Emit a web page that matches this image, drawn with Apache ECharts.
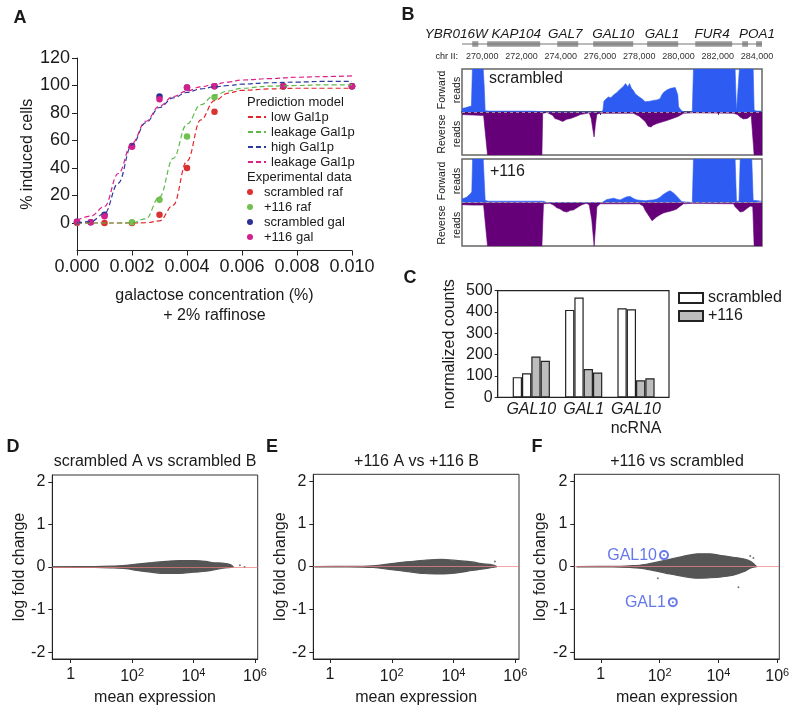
<!DOCTYPE html>
<html><head><meta charset="utf-8">
<script src="https://cdn.jsdelivr.net/npm/echarts@6/dist/echarts.min.js"></script>
<style>html,body{margin:0;padding:0;background:#fff}#c{width:800px;height:718px}</style>
</head><body><div id="c"></div>
<script>
// ---------------- Panel A data ----------------
const galConc      = [0, 0.0005, 0.001, 0.002, 0.003, 0.004, 0.005, 0.0075, 0.01];
const scrambledRaf = [0, null, 0, 0, 6, 40, 81, 99.5, 99.5];
const plus116Raf   = [0.5, null, null, 0.5, 17, 63, 91.5, 99.5, 99.5];
const scrambledGal = [1, 0.5, 6, 56, 92, 98.5, 99.5, 99.5, 99.5];
const plus116Gal   = [1, 0.5, 5, 55.5, 90, 98.5, 99.5, 99.5, 99.5];
const modelX       = [0,0.0005,0.001,0.0015,0.002,0.0025,0.003,0.0035,0.004,0.0045,0.005,0.0055,0.006,0.007,0.008,0.009,0.01];
const lowGal1p     = [0,0,0,0,0,0.2,1.5,13,45,75,89,94.5,96.5,97.5,98,98,98];
const leakLowGal1p = [0,0,0,0,0.3,3,19,47,72,86,93,96,98,99.5,100,100.5,100.5];
const highGal1p    = [0,1,7,29,57,73,84,91,95,97.5,99,100,101,102,102.5,103,103];
const leakHighGal1p= [2,5,12,36,58,74,85,92,96,99,101,102.5,104,105,106,106.5,107];
const yTicksA      = [0,20,40,60,80,100,120];

// ---------------- Panel B data ----------------
const chrMin = 268970, chrMax = 284250;
const rulerTicks   = [270000,272000,274000,276000,278000,280000,282000,284000];
const geneNames    = ['YBR016W','KAP104','GAL7','GAL10','GAL1','FUR4','POA1'];
const geneLabelPos = [268680,271730,274230,276670,279160,281710,284000];
const exonStart    = [269490,270250,273820,275650,278400,280850,283240,283950];
const exonEnd      = [269800,272950,274890,277690,279980,282730,283540,284250];

const scrFwdPos = [268970,269150,269300,269450,269500,270050,270100,270150,270400,272500,273000,273300,276100,276150,276200,276300,276430,276550,276700,276850,277000,277100,277200,277300,277370,277420,277500,277600,277700,277800,277880,278000,278150,278300,278400,278550,278720,278900,279060,279150,279250,279400,279500,279600,279700,279830,279910,279960,280000,280170,280300,280700,280760,282880,282950,283050,283100,283800,283850,284000,284250];
const scrFwdVal = [8,10,12,14,100,100,60,3,2,2,1,0,0,5,25,30,35,33,40,45,52,48,60,66,70,58,66,55,50,42,38,35,30,24,27,25,27,28,31,40,46,51,48,55,53,57,60,40,12,2,0,0,100,100,2,3,100,100,4,2,2];
const scrRevPos = [268970,269500,270070,270270,273040,273080,273300,273600,273700,273900,274100,274300,274500,274800,275000,275100,275450,275550,275650,275700,275760,275840,276000,277700,277800,278000,278300,278450,278600,278720,278900,279100,279400,279700,280000,280250,280750,282800,283000,283150,283300,283500,283700,283780,283850,284250];
const scrRevVal = [-6,-7,-8,-100,-100,-3,-1,-8,-15,-18,-22,-17,-15,-10,-6,-2,-2,-15,-45,-58,-30,-5,-3,-3,-5,-10,-22,-33,-35,-30,-27,-24,-20,-15,-10,-3,-2,-3,-6,-12,-16,-15,-8,-10,-100,-100];
const p116FwdPos = [268970,269200,269400,269470,269510,270050,270150,270300,273100,273300,276100,276180,276350,276500,276690,276900,277030,277200,277370,277450,277540,277700,277880,278050,278300,278500,278720,278900,279060,279200,279320,279450,279570,279650,279740,279900,280000,280170,280700,280760,282880,282950,283080,283140,283730,283800,284250];
const p116FwdVal = [8,12,20,25,100,100,5,3,3,0,0,3,7,8,10,7,6,10,13,17,14,9,6,5,4,5,6,8,12,18,21,25,27,25,22,15,10,2,0,100,100,3,3,100,100,5,3];
const p116RevPos = [268970,269500,270070,270270,273040,273120,273450,273630,273800,273970,274140,274310,274500,274650,274900,275080,275300,275450,275580,275700,275780,275840,276000,278000,278200,278300,278450,278550,278650,278720,278890,279060,279230,279400,279570,279740,279900,280100,280250,280700,282800,282880,283000,283140,283300,283480,283650,283780,283850,284250];
const p116RevVal = [-5,-6,-6,-100,-100,-3,-2,-6,-12,-15,-20,-22,-18,-17,-10,-5,-2,-5,-40,-100,-50,-10,-3,-3,-8,-18,-28,-35,-42,-40,-33,-28,-24,-22,-20,-18,-15,-8,-3,-2,-3,-10,-15,-22,-20,-14,-8,-10,-100,-100];

// ---------------- Panel C data ----------------
const cCategories = ['GAL10','GAL1','GAL10\nncRNA'];
const cPositions  = [1,2,3];
const scrambledA  = [95, 410, 418];
const scrambledB  = [113, 468, 413];
const plus116A    = [192, 133, 80];
const plus116B    = [172, 117, 90];

// ---------------- Panels D-F data (log10 mean expression) ----------------
const maTicksX = [0,2,4,6];
const maTicksY = [-2,-1,0,1,2];
const dLogMean = [-0.6,0.8,1.3,1.8,2.15,2.6,3.1,3.55,4.0,4.4,4.65,4.95,5.2,5.3];
const dUpper   = [0.004,0.01,0.02,0.04,0.07,0.10,0.13,0.15,0.15,0.13,0.10,0.09,0.06,0.0];
const dLower   = [-0.004,-0.01,-0.02,-0.04,-0.08,-0.12,-0.15,-0.15,-0.12,-0.10,-0.07,-0.03,-0.01,0.0];
const dOutX    = [5.51,5.66];
const dOutY    = [0.04,0.0];
const eLogMean = [-0.5,0.6,1.4,2.0,2.45,3.05,3.6,4.15,4.6,4.9,5.25,5.4];
const eUpper   = [0.004,0.005,0.02,0.07,0.11,0.15,0.17,0.14,0.11,0.07,0.04,0];
const eLower   = [-0.004,-0.005,-0.02,-0.07,-0.11,-0.16,-0.17,-0.14,-0.09,-0.06,-0.02,0];
const eOutX    = [5.34];
const eOutY    = [0.12];
const fLogMean = [-0.82,0.4,1.0,1.5,2.2,2.8,3.3,3.7,4.1,4.5,4.85,5.1,5.3];
const fUpper   = [0.004,0.005,0.02,0.05,0.15,0.24,0.30,0.30,0.26,0.22,0.18,0.12,0];
const fLower   = [-0.004,-0.005,-0.02,-0.05,-0.15,-0.23,-0.27,-0.26,-0.24,-0.20,-0.12,-0.03,0];
const fOutX    = [1.94,4.68,5.08,5.19];
const fOutY    = [-0.27,-0.48,0.25,0.2];
const galGeneNames = ['GAL10','GAL1'];
const galGeneX     = [2.15,2.45];
const galGeneY     = [0.27,-0.83];

// ---------------- build ----------------
const FF = '"Liberation Sans", Arial, Helvetica, sans-serif';
const TXT = '#1a1a1a';
const zip = (xs, ys) => xs.map((x, i) => [x, ys[i]]).filter(p => p[1] !== null && p[1] !== undefined);

const chart = echarts.init(document.getElementById('c'), null, {width: 800, height: 718});

const grids = [
  {left: 77, top: 58, width: 275, height: 192.5},
  {left: 462, top: 40, width: 300, height: 8},
  {left: 462, top: 69, width: 300, height: 86, show: true, borderColor: '#666', borderWidth: 1.5},
  {left: 462, top: 159, width: 300, height: 87, show: true, borderColor: '#666', borderWidth: 1.5},
  {left: 497.7, top: 290.7, width: 171.3, height: 106.7, show: true, borderColor: '#222', borderWidth: 1.2},
  {left: 52.3, top: 475, width: 205.4, height: 184, show: true, borderColor: '#333', borderWidth: 1},
  {left: 313.3, top: 474.3, width: 205.7, height: 184.7, show: true, borderColor: '#333', borderWidth: 1},
  {left: 574.3, top: 474.3, width: 205, height: 184.7, show: true, borderColor: '#333', borderWidth: 1}
];

const axLine = {show: true, onZero: false, lineStyle: {color: '#222', width: 1}};
const maRange = [[-0.6, 6.09], [-0.54, 6.12], [-0.9, 6.07]];
const maNameGap = [24, 25, 26];

const xAxes = [
  {gridIndex: 0, type: 'value', min: 0, max: 0.01, interval: 0.002, axisLine: axLine,
   axisTick: {length: 5, lineStyle: {color: '#222'}}, splitLine: {show: false},
   axisLabel: {fontSize: 18, color: TXT, margin: 8, fontFamily: FF, formatter: v => v.toFixed(3)},
   name: 'galactose concentration (%)\n+ 2% raffinose', nameLocation: 'middle', nameGap: 35,
   nameTextStyle: {fontSize: 16, lineHeight: 20, color: TXT, fontFamily: FF}},
  {gridIndex: 1, type: 'value', min: chrMin, max: chrMax, show: false},
  {gridIndex: 2, type: 'value', min: chrMin, max: chrMax, position: 'top', offset: 6,
   axisLine: {show: true, lineStyle: {color: '#444', width: 2, type: [1, 1.5]}},
   axisTick: {show: true, inside: true, length: 3, customValues: rulerTicks, lineStyle: {color: '#444'}},
   axisLabel: {customValues: rulerTicks, fontSize: 9, margin: 2, color: '#333', fontFamily: FF,
               formatter: v => v.toLocaleString('en-US')}, splitLine: {show: false}},
  {gridIndex: 3, type: 'value', min: chrMin, max: chrMax, show: false},
  {gridIndex: 4, type: 'value', min: 0.358, max: 3.63, axisLine: {show: false}, axisTick: {show: false},
   splitLine: {show: false},
   axisLabel: {customValues: cPositions, margin: 3, color: TXT,
     formatter: v => { const parts = cCategories[Math.round(v) - 1].split('\n');
       return parts.map((p, k) => k === 0 ? '{i|' + p + '}' : '{n|' + p + '}').join('\n'); },
     rich: {i: {fontStyle: 'italic', fontSize: 16, lineHeight: 19, color: TXT, fontFamily: FF},
            n: {fontSize: 16, lineHeight: 19, color: TXT, fontFamily: FF}}}}
];
const yAxes = [
  {gridIndex: 0, type: 'value', min: -20, max: 120, interval: 20, axisLine: axLine,
   axisTick: {show: true, length: 5, customValues: yTicksA, lineStyle: {color: '#222'}}, splitLine: {show: false},
   axisLabel: {customValues: yTicksA, fontSize: 18, color: TXT, margin: 7, fontFamily: FF},
   name: '% induced cells', nameLocation: 'middle', nameGap: 36,
   nameTextStyle: {fontSize: 16, color: TXT, fontFamily: FF}},
  {gridIndex: 1, type: 'value', min: 0, max: 1, show: false},
  {gridIndex: 2, type: 'value', min: -100, max: 100, show: false},
  {gridIndex: 3, type: 'value', min: -100, max: 100, show: false},
  {gridIndex: 4, type: 'value', min: 0, max: 500, interval: 100, axisLine: axLine,
   axisTick: {show: true, length: 3, lineStyle: {color: '#222'}}, splitLine: {show: false},
   axisLabel: {fontSize: 16, color: TXT, margin: 5, fontFamily: FF},
   name: 'normalized counts', nameLocation: 'middle', nameGap: 40,
   nameTextStyle: {fontSize: 16, color: TXT, fontFamily: FF}}
];
for (let k = 0; k < 3; k++) {
  xAxes.push({gridIndex: 5 + k, type: 'value', min: maRange[k][0], max: maRange[k][1],
    axisLine: axLine, splitLine: {show: false},
    axisTick: {show: true, length: 4, customValues: maTicksX, lineStyle: {color: '#222'}},
    axisLabel: {customValues: maTicksX, margin: 8, color: TXT, fontFamily: FF,
      formatter: v => v === 0 ? '{b|1}' : '{b|10}{s|' + v + '}',
      rich: {b: {fontSize: 16, color: TXT, fontFamily: FF}, s: {fontSize: 11, color: TXT, fontFamily: FF, padding: [0, 0, 9, 0]}}},
    name: 'mean expression', nameLocation: 'middle', nameGap: 31,
    nameTextStyle: {fontSize: 16, color: TXT, fontFamily: FF}});
  yAxes.push({gridIndex: 5 + k, type: 'value', min: -2.16, max: 2.16,
    axisLine: axLine, splitLine: {show: false},
    axisTick: {show: true, length: 4, customValues: maTicksY, lineStyle: {color: '#222'}},
    axisLabel: {customValues: maTicksY, fontSize: 16, margin: 7, color: TXT, fontFamily: FF},
    name: 'log fold change', nameLocation: 'middle', nameGap: maNameGap[k],
    nameTextStyle: {fontSize: 16, color: TXT, fontFamily: FF}});
}

const series = [];
const models = [['low Gal1p', lowGal1p, '#e3262b'], ['leakage Gal1p', leakLowGal1p, '#5fb84a'],
                ['high Gal1p', highGal1p, '#2c3a9c'], ['leakage Gal1p\u200b', leakHighGal1p, '#dd1f8a']];
models.forEach(([n, d, c]) => series.push({name: n, type: 'line', xAxisIndex: 0, yAxisIndex: 0,
  data: zip(modelX, d), smooth: 0.4, smoothMonotone: 'x', symbol: 'none',
  lineStyle: {color: c, width: 1.2, type: [5, 3]}, itemStyle: {color: c}}));
const pts = [['scrambled raf', scrambledRaf, '#d93232'], ['+116 raf', plus116Raf, '#72c04f'],
             ['scrambled gal', scrambledGal, '#2e3192'], ['+116 gal', plus116Gal, '#d4208c']];
pts.forEach(([n, d, c]) => series.push({name: n, type: 'scatter', xAxisIndex: 0, yAxisIndex: 0,
  data: zip(galConc, d), symbolSize: 6.5, itemStyle: {color: c, opacity: 1}}));

series.push({type: 'line', xAxisIndex: 1, yAxisIndex: 1, data: [[chrMin, 0.5], [chrMax, 0.5]],
  symbol: 'none', lineStyle: {color: '#777', width: 1}, silent: true});
series.push({type: 'custom', xAxisIndex: 1, yAxisIndex: 1, data: zip(exonStart, exonEnd), silent: true,
  renderItem: (params, api) => {
    const a = api.coord([api.value(0), 0.85]), b = api.coord([api.value(1), 0.15]);
    return {type: 'rect', shape: {x: a[0], y: a[1], width: b[0] - a[0], height: b[1] - a[1]}, style: {fill: '#9a9a9a'}};
  }});
series.push({type: 'custom', xAxisIndex: 1, yAxisIndex: 1, clip: false, silent: true,
  data: geneLabelPos.map(p => [p, 0.5]),
  renderItem: (params, api) => {
    const a = api.coord([api.value(0), api.value(1)]);
    return {type: 'text', x: a[0], y: a[1] - 10,
      style: {text: geneNames[params.dataIndex], font: 'italic 13.5px ' + FF, fill: TXT,
              textAlign: 'center', textVerticalAlign: 'middle'}};
  }});

const BLUE = '#2e5cf3', PURPLE = '#650079';
function track(ax, pos, val, color, withBase) {
  const s = {type: 'line', xAxisIndex: ax, yAxisIndex: ax, data: zip(pos, val), symbol: 'none',
    lineStyle: {color: color, width: 0.6}, areaStyle: {color: color, opacity: 1}, silent: true};
  if (withBase) s.markLine = {silent: true, symbol: ['none', 'none'], label: {show: false},
    lineStyle: {color: '#999', type: [3, 3], width: 1}, data: [{yAxis: 0}]};
  return s;
}
series.push(track(2, scrFwdPos, scrFwdVal, BLUE, true));
series.push(track(2, scrRevPos, scrRevVal, PURPLE, false));
series.push(track(3, p116FwdPos, p116FwdVal, BLUE, true));
series.push(track(3, p116RevPos, p116RevVal, PURPLE, false));

[['scrambled', scrambledA, '#ffffff'], ['scrambled', scrambledB, '#ffffff'],
 ['+116', plus116A, '#bdbdbd'], ['+116', plus116B, '#bdbdbd']].forEach(([n, d, c]) =>
  series.push({name: n, type: 'bar', xAxisIndex: 4, yAxisIndex: 4, data: zip(cPositions, d),
    barWidth: 9.3, barGap: '0%', itemStyle: {color: c, borderColor: '#222', borderWidth: 1.2}}));

function ma(k, lx, up, lo, ox, oy) {
  const ax = 5 + k;
  const band = (d) => ({type: 'line', xAxisIndex: ax, yAxisIndex: ax, data: zip(lx, d), symbol: 'none',
    smooth: 0.35, lineStyle: {color: '#555', width: 1.2}, areaStyle: {color: '#555', opacity: 1}, silent: true});
  const s1 = band(up), s2 = band(lo);
  s2.markLine = {silent: true, symbol: ['none', 'none'], label: {show: false},
    lineStyle: {color: '#ee7c7c', type: 'solid', width: 1, opacity: 0.7}, data: [{yAxis: 0}]};
  series.push(s1, s2);
  series.push({type: 'scatter', xAxisIndex: ax, yAxisIndex: ax, data: zip(ox, oy), symbolSize: 2,
    itemStyle: {color: '#555'}, silent: true});
}
ma(0, dLogMean, dUpper, dLower, dOutX, dOutY);
ma(1, eLogMean, eUpper, eLower, eOutX, eOutY);
ma(2, fLogMean, fUpper, fLower, fOutX, fOutY);
series.push({type: 'scatter', xAxisIndex: 7, yAxisIndex: 7, symbol: 'emptyCircle', symbolSize: 8,
  data: galGeneX.map((x, i) => ({value: [x, galGeneY[i]], name: galGeneNames[i]})),
  itemStyle: {color: '#4257e6', borderWidth: 1}, z: 5,
  label: {show: true, position: 'left', distance: 2, formatter: '{b}', color: '#3f55e6', fontSize: 16, fontFamily: FF}});
series.push({type: 'scatter', xAxisIndex: 7, yAxisIndex: 7, symbolSize: 2, z: 5,
  data: zip(galGeneX, galGeneY), itemStyle: {color: '#4257e6'}});

const legendText = {fontSize: 13, color: TXT, fontFamily: FF, lineHeight: 13};
const legends = [
  {left: 247, top: 110.5, padding: 0, orient: 'vertical', itemWidth: 18, itemHeight: 8, itemGap: 2,
   itemStyle: {opacity: 0},
   data: ['low Gal1p', 'leakage Gal1p', 'high Gal1p', 'leakage Gal1p\u200b'], textStyle: legendText, selectedMode: false},
  {left: 247, top: 185.5, padding: 0, orient: 'vertical', itemWidth: 18, itemHeight: 6, itemGap: 2,
   data: ['scrambled raf', '+116 raf', 'scrambled gal', '+116 gal'], textStyle: legendText, selectedMode: false},
  {left: 678, top: 290, padding: 0, orient: 'vertical', itemWidth: 24, itemHeight: 10, itemGap: 2, icon: 'rect',
   data: ['scrambled', '+116'], textStyle: {fontSize: 16, color: TXT, fontFamily: FF, lineHeight: 13}, selectedMode: false}
];

const txt = (x, y, text, font, align, extra) => Object.assign({type: 'text', x: x, y: y, silent: true,
  style: {text: text, font: font, fill: TXT, textAlign: align || 'center', textVerticalAlign: 'middle'}}, extra || {});
const bold = 'bold 18px ' + FF;
const graphic = [
  txt(20, 18, 'A', bold), txt(408, 15, 'B', bold), txt(410, 278, 'C', bold),
  txt(13, 447, 'D', bold), txt(272, 447, 'E', bold), txt(537, 447, 'F', bold),
  txt(247, 102, 'Prediction model', '13px ' + FF, 'left'),
  txt(247, 177, 'Experimental data', '13px ' + FF, 'left'),
  txt(458, 57, 'chr II:', '9px ' + FF, 'right'),
  txt(489, 79, 'scrambled', '16px ' + FF, 'left'),
  txt(490, 172, '+116', '16px ' + FF, 'left'),
  txt(155, 462, 'scrambled A vs scrambled B', '16px ' + FF),
  txt(416.5, 462, '+116 A vs +116 B', '16px ' + FF),
  txt(677, 462, '+116 vs scrambled', '16px ' + FF)
];
[[90, 'Forward\nreads'], [134, 'Reverse\nreads'], [181, 'Forward\nreads'], [225, 'Reverse\nreads']].forEach(([y, t]) => {
  const g = txt(449.5, y, t, '10.5px ' + FF, 'center', {rotation: Math.PI / 2});
  g.style.lineHeight = 15;
  graphic.push(g);
});

chart.setOption({
  animation: false,
  backgroundColor: '#fff',
  textStyle: {fontFamily: FF},
  grid: grids, xAxis: xAxes, yAxis: yAxes, series: series, legend: legends, graphic: graphic
});
</script>
</body></html>
